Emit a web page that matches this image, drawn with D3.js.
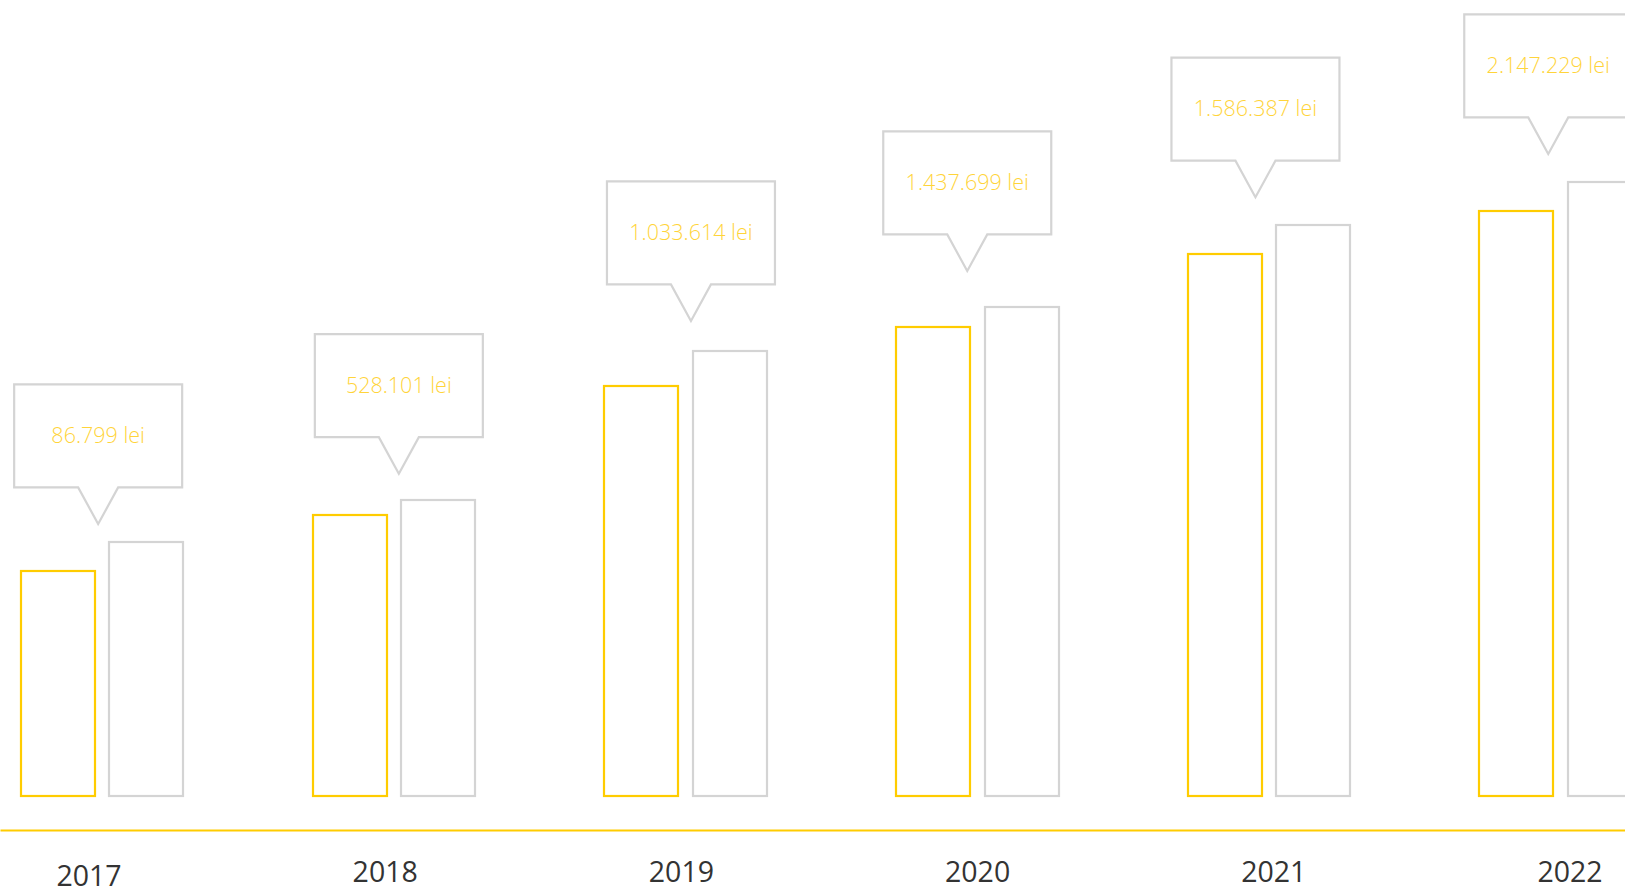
<!DOCTYPE html>
<html>
<head>
<meta charset="utf-8">
<script src="https://cdn.jsdelivr.net/npm/d3@7"></script>
<style>
  html, body { margin: 0; padding: 0; background: #fff; overflow: hidden; }
  svg { display: block; }
</style>
</head>
<body>
<svg id="chart" width="1625" height="889"></svg>
<script>
// ---- data ----
const years = ["2017", "2018", "2019", "2020", "2021", "2022"];
const yellowValues = [225, 281, 410, 469, 542, 585];
const grayValues = [254, 296, 445, 489, 571, 614];
const calloutLabels = ["86.799 lei", "528.101 lei", "1.033.614 lei", "1.437.699 lei", "1.586.387 lei", "2.147.229 lei"];

// ---- layout tweaks (px) ----
const calloutDx = [-4, 5, 5.4, -10, -13.5, -12.4];
const calloutDy = [10, 1.7, -2, -8, 0.3, 0];
const yearDy = [4, 0, 0, 0, 0, 0];

const W = 1625, H = 889;
const YELLOW = "#FFCC00", LABEL_YELLOW = "#FFD43A", GRAY = "#D4D4D4", TEXT = "#333333";
const svg = d3.select("#chart");

const x = d3.scaleBand().domain(years).range([21, 1641.8]).paddingInner(0.4436).paddingOuter(0);
const xSub = d3.scaleBand().domain(["y", "g"]).range([0, x.bandwidth()]).paddingInner(0.165).paddingOuter(0);
const y = d3.scaleLinear().domain([0, 700]).range([796, 96]);
const xLabel = d3.scalePoint().domain(years).range([89, 1570]);

const rows = years.map((yr, i) => ({ yr, i, yv: yellowValues[i], gv: grayValues[i] }));

const g = svg.append("g");

// bars
g.selectAll("rect.yellow").data(rows).join("rect")
  .attr("class", "yellow")
  .attr("x", d => Math.round(x(d.yr) + xSub("y")))
  .attr("y", d => Math.round(y(d.yv)))
  .attr("width", Math.round(xSub.bandwidth()))
  .attr("height", d => Math.round(y(0)) - Math.round(y(d.yv)))
  .attr("fill", "none").attr("stroke", YELLOW).attr("stroke-width", 2.2);

g.selectAll("rect.gray").data(rows).join("rect")
  .attr("class", "gray")
  .attr("x", d => Math.round(x(d.yr) + xSub("g")))
  .attr("y", d => Math.round(y(d.gv)))
  .attr("width", Math.round(xSub.bandwidth()))
  .attr("height", d => Math.round(y(0)) - Math.round(y(d.gv)))
  .attr("fill", "none").attr("stroke", GRAY).attr("stroke-width", 2.2);

// baseline axis
const axis = d3.axisBottom(d3.scaleLinear().domain([0, 1]).range([0, W])).ticks(0).tickSize(0).tickFormat("");
const axG = svg.append("g").attr("transform", "translate(0,830)").call(axis);
axG.select(".domain").attr("stroke", YELLOW).attr("stroke-width", 2.2);

// year labels
svg.selectAll("text.year").data(years).join("text")
  .attr("class", "year")
  .attr("x", d => xLabel(d))
  .attr("y", (d, i) => 882 + yearDy[i])
  .attr("text-anchor", "middle")
  .attr("font-family", "'Open Sans', 'Noto Sans', sans-serif")
  .attr("font-size", 28.5)
  .attr("fill", TEXT)
  .text(d => d);

// callouts
const BW = 168, BH = 103, NOTCH = 20, DEPTH = 36.6, GAP = 28;
const callouts = svg.selectAll("g.callout").data(rows).join("g")
  .attr("class", "callout")
  .attr("transform", d => {
    const cx = x(d.yr) + x.bandwidth() / 2 + calloutDx[d.i];
    const tipY = y(d.gv) - GAP + calloutDy[d.i];
    return `translate(${cx},${tipY})`;
  });

callouts.append("path")
  .attr("d", () => {
    const top = -(BH + DEPTH), bot = -DEPTH;
    return `M${-BW/2},${top} L${BW/2},${top} L${BW/2},${bot} L${NOTCH},${bot} L0,0 L${-NOTCH},${bot} L${-BW/2},${bot} Z`;
  })
  .attr("fill", "#fff").attr("stroke", GRAY).attr("stroke-width", 2.2)
  .attr("stroke-linejoin", "miter");

callouts.append("text")
  .attr("x", 0)
  .attr("y", -(BH + DEPTH) + 58.5)
  .attr("text-anchor", "middle")
  .attr("font-family", "'Open Sans', 'Noto Sans', sans-serif")
  .attr("font-weight", 300)
  .attr("font-size", 21.5)
  .attr("fill", LABEL_YELLOW)
  .text(d => calloutLabels[d.i]);
</script>
</body>
</html>
